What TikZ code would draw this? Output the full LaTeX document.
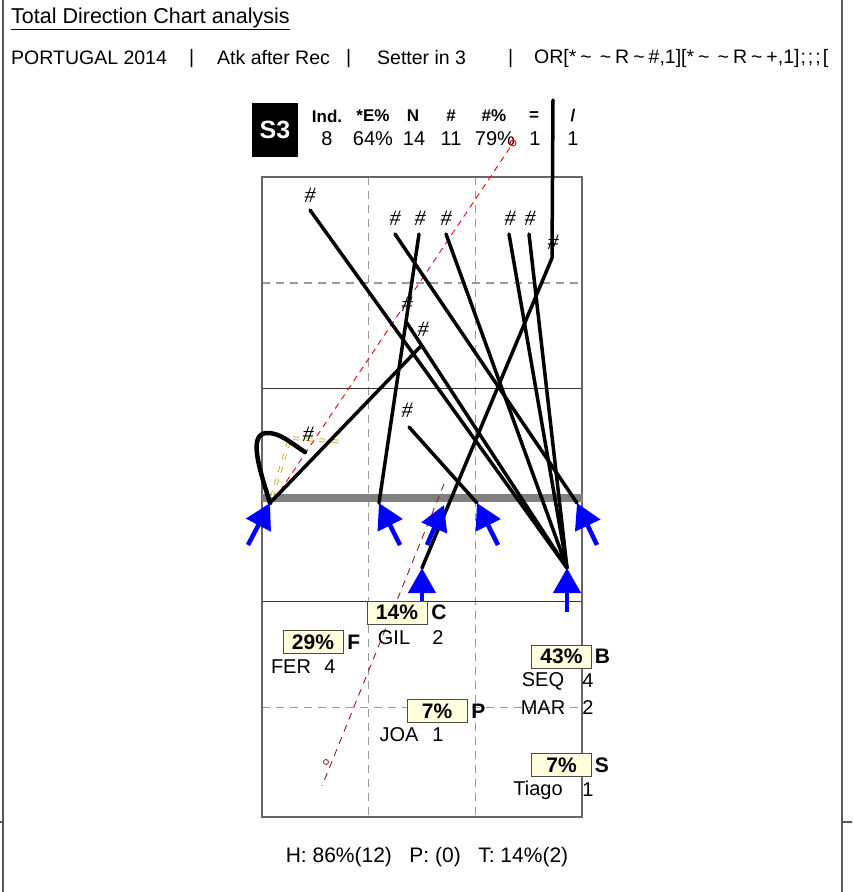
\documentclass[tikz,border=0pt]{standalone}
\usepackage{fontspec}
\setmainfont{Liberation Sans}
\newfontfamily\hashfont{Liberation Serif}
\usetikzlibrary{positioning,arrows.meta}

\definecolor{cream}{RGB}{255,255,221}
\definecolor{setblue}{RGB}{0,0,255}
\definecolor{goldline}{RGB}{205,160,0}
\definecolor{darkred}{RGB}{150,25,25}

\newcommand{\tld}{\kern4pt\char`\~\kern4pt}

\begin{document}
\begin{tikzpicture}[x=1pt, y=-1pt,
  frame/.style={draw=black!65, line width=1.5},
  court/.style={draw=black!60, line width=1.5},
  zone/.style={draw=black!40, line width=1.2, dash pattern=on 8pt off 6pt},
  netline/.style={draw=black!50, line width=8},
  atk/.style={draw=black, line width=3.5, line cap=round},
  setarrow/.style={draw=setblue, line width=4.5, -{Triangle[length=25pt,width=27pt]}},
  hash/.style={font=\hashfont\itshape\fontsize{22}{22}\selectfont, inner sep=0pt},
  pct/.style={draw=black!70, fill=cream, font=\bfseries\fontsize{21}{21}\selectfont, minimum width=60, minimum height=23, inner sep=0pt},
  zonelab/.style={font=\bfseries\fontsize{21}{21}\selectfont, inner sep=0pt},
  player/.style={font=\fontsize{20}{20}\selectfont, inner sep=0pt},
  head/.style={font=\bfseries\fontsize{17}{17}\selectfont, inner sep=0pt},
  val/.style={font=\fontsize{20}{20}\selectfont, inner sep=0pt},
  txt/.style={font=\fontsize{19.5}{19.5}\selectfont, inner sep=0pt, anchor=west}
]
  \useasboundingbox (0,0) rectangle (852,892);

  % page frame
  \draw[frame] (3,0) -- (3,892);
  \draw[frame] (842,0) -- (842,892);
  \draw[frame] (0,822) -- (3,822);
  \draw[frame] (842,822) -- (852,822);

  % titles
  \node[txt, font=\fontsize{21.5}{21.5}\selectfont] (title) at (11,19) {\underline{Total Direction Chart analysis}};
  \node[txt] (team) at (11,58) {PORTUGAL 2014};
  \node[txt] (bar1) at (189,58) {|};
  \node[txt] (phase) at (217,58) {Atk after Rec};
  \node[txt] (bar2) at (346,58) {|};
  \node[txt] (setter) at (377,58) {Setter in 3};
  \node[txt] (bar3) at (508,58) {|};
  \node[txt] (filter) at (534,58) {OR[*\tld\tld R\tld\#,1][*\tld\tld R\tld +,1]\kern1pt;\kern2pt;\kern2pt;\kern2pt[};

  % rotation box and totals
  \node[fill=black, text=white, font=\bfseries\fontsize{25}{25}\selectfont, minimum width=46, minimum height=54, inner sep=0pt] (rot) at (275,130) {S3};
  \node[head] (hInd) at (327,116) {Ind.};
  \node[head] (hEff) at (373,116) {*E\%};
  \node[head] (hN) at (413,116) {N};
  \node[head] (hHash) at (451,116) {\#};
  \node[head] (hHashP) at (494,116) {\#\%};
  \node[head] (hEq) at (534,116) {=};
  \node[head] (hSl) at (573,116) {/};
  \node[val] (vInd) at (327,139) {8};
  \node[val] (vEff) at (373,139) {64\%};
  \node[val] (vN) at (414,139) {14};
  \node[val] (vHash) at (451,139) {11};
  \node[val] (vHashP) at (495,139) {79\%};
  \node[val] (vEq) at (535,139) {1};
  \node[val] (vSl) at (573,139) {1};

  % court
  \draw[zone] (368.7,177) -- (368.7,817);
  \draw[zone] (475.3,177) -- (475.3,817);
  \draw[zone] (262,283) -- (582,283);
  \draw[zone] (262,707.5) -- (582,707.5);
  \draw[black!80, line width=1] (262,388.5) -- (582,388.5);
  \draw[black!80, line width=1] (262,601) -- (582,601);
  \draw[court] (262,177) rectangle (582,817);
  \draw[netline] (262,498) -- (583,498);

  % set positions
  \coordinate (t1) at (270,503);
  \coordinate (t2) at (379,503);
  \coordinate (t3) at (444,505);
  \coordinate (t4) at (477,503);
  \coordinate (t5) at (577,503);
  \coordinate (t6) at (422,568);
  \coordinate (t7) at (567,568);
  \coordinate (s1) at (248,545);
  \coordinate (s2) at (400,545);
  \coordinate (s3) at (427,545);
  \coordinate (s4) at (498,545);
  \coordinate (s5) at (597,545);
  \coordinate (s6) at (422,603);
  \coordinate (s7) at (567,612);

  % attack ends
  \coordinate (e1) at (310,210);
  \coordinate (e2) at (395,234);
  \coordinate (e3) at (419,234);
  \coordinate (e4) at (446,234);
  \coordinate (e5) at (509,234);
  \coordinate (e6) at (529,234);
  \coordinate (e7) at (552,258);
  \coordinate (e7top) at (553,100);
  \coordinate (e8) at (407,323);
  \coordinate (e9) at (422,345);
  \coordinate (e10) at (409,427);
  \coordinate (e11) at (305,452);

  % dashed trajectories
  \coordinate (r0) at (274,500);
  \coordinate (r1) at (513,143);
  \draw[red, line width=0.9, dash pattern=on 6pt off 5pt] (r0) -- (r1);
  \draw[red, line width=0.9] (r1) circle (3);
  \coordinate (m0) at (444,484);
  \coordinate (m1) at (322,786);
  \coordinate (mc) at (326,762);
  \draw[darkred, line width=0.9, dash pattern=on 7pt off 6pt] (m0) -- (m1);
  \draw[darkred, fill=white, line width=0.8] (mc) circle (2.5);
  \draw[goldline, line width=0.8, double, double distance=2pt, dash pattern=on 6pt off 7pt] (272,497) -- (290,438) -- (345,442);

  % attacks
  \draw[atk] (e1) -- (t7);
  \draw[atk] (e2) -- (t5);
  \draw[atk] (e3) -- (t2);
  \draw[atk] (e4) -- (t7);
  \draw[atk] (e5) -- (t7);
  \draw[atk] (e6) -- (t7);
  \draw[atk] (t6) -- (e7) -- (e7top);
  \draw[atk] (e8) -- (t7);
  \draw[atk] (t1) -- (e9);
  \draw[atk] (e10) -- (t4);
  \draw[atk, line width=4.5] (t1) .. controls (258,465) and (249,435) .. (266,433) .. controls (280,432) and (292,444) .. (e11);

  \node[hash] (h1) at (310,195) {\#};
  \node[hash] (h2) at (395,218) {\#};
  \node[hash] (h3) at (420,218) {\#};
  \node[hash] (h4) at (446,218) {\#};
  \node[hash] (h5) at (510,218) {\#};
  \node[hash] (h6) at (530,218) {\#};
  \node[hash] (h7) at (553,242) {\#};
  \node[hash] (h8) at (407,304) {\#};
  \node[hash] (h9) at (423,329) {\#};
  \node[hash] (h10) at (407,410) {\#};
  \node[hash] (h11) at (308,434) {\#};

  \draw[setarrow] (s1) -- (t1);
  \draw[setarrow] (s2) -- (t2);
  \draw[setarrow] (s3) -- (t3);
  \draw[setarrow] (s4) -- (t4);
  \draw[setarrow] (s5) -- (t5);
  \draw[setarrow] (s6) -- (t6);
  \draw[setarrow] (s7) -- (t7);

  % zone percentages and players
  \node[pct] (pctC) at (397,612.5) {14\%};
  \node[zonelab, right=4pt of pctC] (labC) {C};
  \node[player] (gil) at (394,638) {GIL};
  \node[player] (giln) at (438,638) {2};

  \node[pct] (pctF) at (313,642) {29\%};
  \node[zonelab, right=4pt of pctF] (labF) {F};
  \node[player] (fer) at (291,667) {FER};
  \node[player] (fern) at (330,667) {4};

  \node[pct] (pctP) at (437,711) {7\%};
  \node[zonelab, right=4pt of pctP] (labP) {P};
  \node[player] (joa) at (399,735) {JOA};
  \node[player] (joan) at (438,735) {1};

  \node[pct] (pctB) at (561.5,656.5) {43\%};
  \node[zonelab, right=3pt of pctB] (labB) {B};
  \node[player] (seq) at (543,681) {SEQ};
  \node[player] (seqn) at (588,681) {4};
  \node[player] (mar) at (543,708) {MAR};
  \node[player] (marn) at (588,708) {2};

  \node[pct] (pctS) at (561.5,765) {7\%};
  \node[zonelab, right=3pt of pctS] (labS) {S};
  \node[player] (tiago) at (538,790) {Tiago};
  \node[player] (tiagon) at (588,790) {1};

  \node[txt, anchor=center, font=\fontsize{21}{21}\selectfont] (summary) at (427,857) {H: 86\%(12)\ \ \ P: (0)\ \ \ T: 14\%(2)};

\end{tikzpicture}
\end{document}
